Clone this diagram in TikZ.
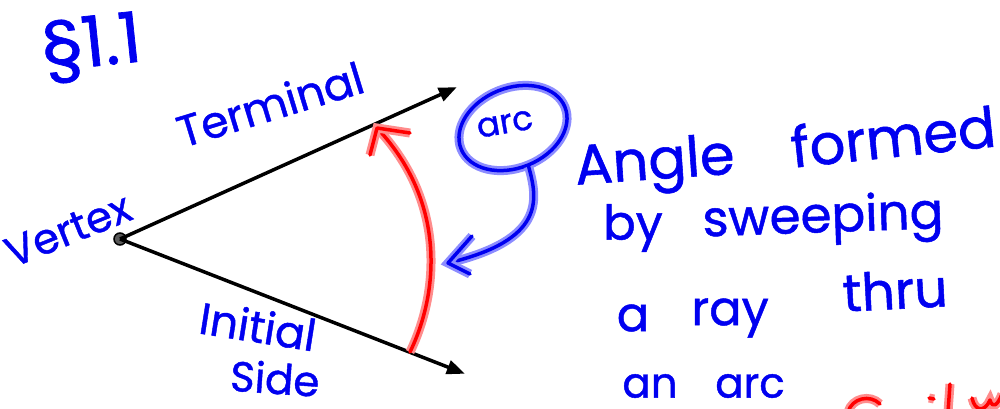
\documentclass[tikz,border=0pt]{standalone}
\usepackage{fontspec}
\setmainfont{Poppins}
\newfontfamily\hand[FakeBold=1]{Poppins}
\usetikzlibrary{arrows.meta,shapes.geometric}
\definecolor{pen}{RGB}{0,0,240}
\definecolor{penglow}{RGB}{140,140,255}
\definecolor{redpen}{RGB}{255,0,0}
\definecolor{redglow}{RGB}{255,140,140}
\begin{document}
\begin{tikzpicture}[x=1pt,y=-1pt,
  ink/.style={inner sep=0pt, text=pen, font=\hand\fontsize{#1}{#1}\selectfont},
  blueline/.style={preaction={draw=penglow,line width=9pt},draw=pen,line width=3.5pt,line cap=round,line join=round},
  redline/.style={preaction={draw=redglow,line width=9pt},draw=redpen,line width=3.5pt,line cap=round,line join=round},
  ray/.style={draw=black,line width=3.5pt,-{Triangle[length=18pt,width=14pt]}},
  ]
\useasboundingbox[fill=white] (0,0) rectangle (1000,408);

% heading
\node[ink=70,rotate=6] (sec) at (92,48) {§1.1};

% vertex and rays
\node[circle,fill=black!65,draw=black,line width=1.5pt,minimum size=12pt,inner sep=0pt] (V) at (120,239) {};
\coordinate (T) at (455,88);
\coordinate (I) at (463,373);
\draw[ray,shorten >=-2pt] (V.center) -- (T);
\draw[ray,shorten >=-2pt] (V.center) -- (I);

% labels on the angle
\node[ink=42,rotate=22] (vtx) at (68,230) {Vertex};
\node[ink=44,rotate=17] (term) at (270,104) {Terminal};
\node[ink=44,rotate=-9] (init) at (258,326) {Initial};
\node[ink=42,rotate=-4] (side) at (275,378) {Side};

% red arc of sweep
\coordinate (a0) at (410,352);
\coordinate (a1) at (377,128);
\draw[redline] (a0) .. controls (440,290) and (445,200) .. (a1);
\draw[redline] (370,155) -- (a1) -- (410,133);

% "arc" bubble
\node[ellipse,draw=penglow,line width=9pt,minimum width=112pt,minimum height=80pt,rotate=22] (bub) at (513,128) {};
\node[ellipse,draw=pen,line width=3.5pt,minimum width=112pt,minimum height=80pt,rotate=22] (bub2) at (513,128) {};
\node[ink=34,rotate=10] (arcw) at (505,124) {arc};
\coordinate (pt) at (448,263);
\draw[blueline] (bub2.south) .. controls (538,200) and (545,240) .. (pt);
\draw[blueline] (472,236) -- (pt) -- (470,274);

% description
\node[ink=56,rotate=4] (w1) at (655,166) {Angle};
\node[ink=56,rotate=6] (w2) at (893,136) {formed};
\node[ink=48] (w3) at (633,228) {by};
\node[ink=50,rotate=2] (w4) at (823,220) {sweeping};
\node[ink=48] (w5) at (633,318) {a};
\node[ink=48] (w6) at (730,318) {ray};
\node[ink=52,rotate=3] (w7) at (895,290) {thru};
\node[ink=42] (w8) at (650,386) {an};
\node[ink=42] (w9) at (750,386) {arc};

% red strokes cut off at the bottom edge
\begin{scope}
\clip (0,0) rectangle (1000,408);
\draw[redline] (848,412) .. controls (852,398) and (870,394) .. (880,404);
\draw[redline] (929,398) -- (934,399);
\draw[redline] (950,384) -- (948,412);
\draw[redline] (972,398) .. controls (975,412) and (985,412) .. (990,400) .. controls (993,410) and (998,404) .. (1002,394);
\end{scope}
\end{tikzpicture}
\end{document}
